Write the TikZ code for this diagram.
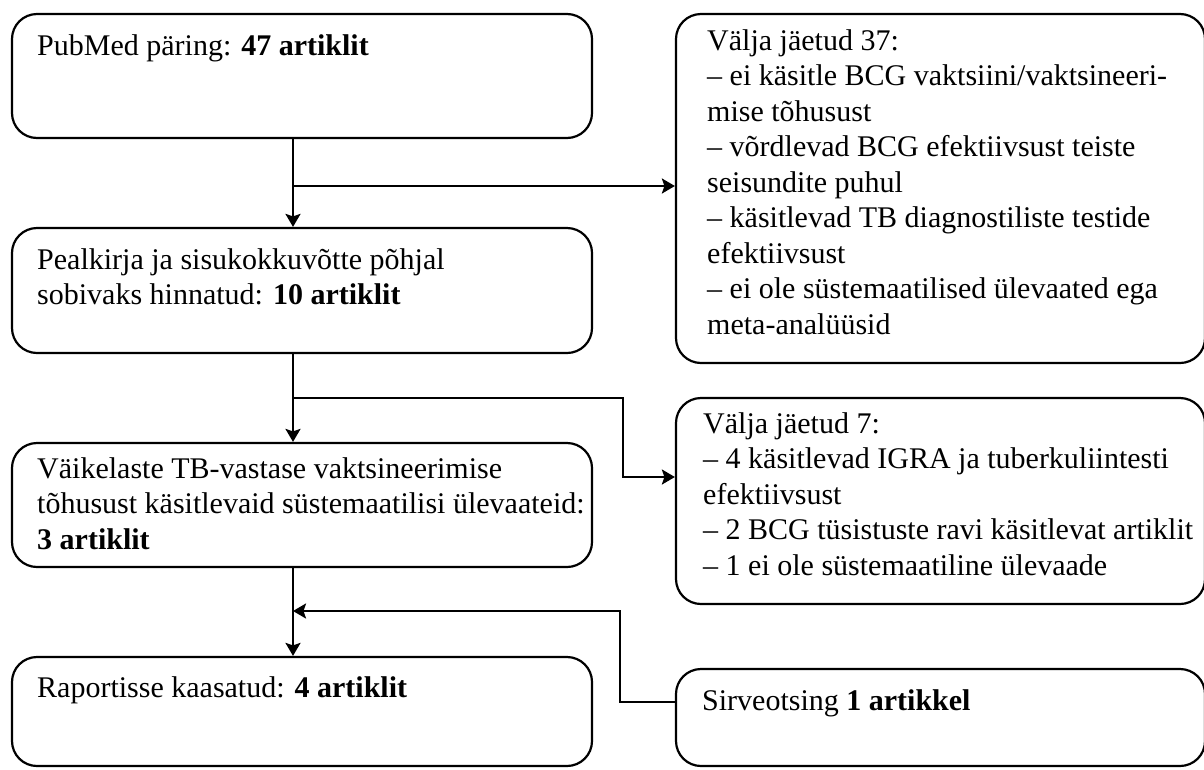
\documentclass[tikz,border=0pt]{standalone}
\usepackage{fontspec}
\setmainfont{Liberation Serif}
\usetikzlibrary{arrows.meta}
\begin{document}
\begin{tikzpicture}[x=1pt,y=-1pt,
  box/.style={draw, line width=2.2pt, rounded corners=25pt, inner sep=0pt, rectangle},
  txt/.style={inner sep=0pt, anchor=base west, font=\fontsize{30}{35.5}\selectfont},
  arr/.style={line width=2.2pt, -{Stealth[length=13pt,width=15pt,inset=2.5pt]}}]
\useasboundingbox (0,0) rectangle (1204,769);
% left boxes
\node[box, minimum width=580pt, minimum height=124pt] (b1) at (302,76) {};
\node[box, minimum width=580pt, minimum height=125pt] (b2) at (302,290.5) {};
\node[box, minimum width=580pt, minimum height=124pt] (b3) at (302,505) {};
\node[box, minimum width=580pt, minimum height=109pt] (b4) at (302,711.5) {};
% right boxes
\node[box, minimum width=529pt, minimum height=349pt] (bA) at (940.5,188.5) {};
\node[box, minimum width=529pt, minimum height=206pt] (bB) at (940.5,501) {};
\node[box, minimum width=529pt, minimum height=97pt] (bC) at (940.5,717.5) {};
% texts
\node[txt] (t1) at (37,55) {\begin{tabular}[t]{@{}l@{}}PubMed päring: \textbf{47 artiklit}\end{tabular}};
\node[txt] (t2) at (37,269) {\begin{tabular}[t]{@{}l@{}}Pealkirja ja sisukokkuvõtte põhjal\\ sobivaks hinnatud: \textbf{10 artiklit}\end{tabular}};
\node[txt] (t3) at (37,478) {\begin{tabular}[t]{@{}l@{}}Väikelaste TB-vastase vaktsineerimise\\ tõhusust käsitlevaid süstemaatilisi ülevaateid:\\ \textbf{3 artiklit}\end{tabular}};
\node[txt] (t4) at (37,697) {\begin{tabular}[t]{@{}l@{}}Raportisse kaasatud: \textbf{4 artiklit}\end{tabular}};
\node[txt] (tA) at (707,50) {\begin{tabular}[t]{@{}l@{}}Välja jäetud 37:\\ – ei käsitle BCG vaktsiini/vaktsineeri-\\ mise tõhusust\\ – võrdlevad BCG efektiivsust teiste\\ seisundite puhul\\ – käsitlevad TB diagnostiliste testide\\ efektiivsust\\ – ei ole süstemaatilised ülevaated ega\\ meta-analüüsid\end{tabular}};
\node[txt] (tB) at (703,433) {\begin{tabular}[t]{@{}l@{}}Välja jäetud 7:\\ – 4 käsitlevad IGRA ja tuberkuliintesti\\ efektiivsust\\ – 2 BCG tüsistuste ravi käsitlevat artiklit\\ – 1 ei ole süstemaatiline ülevaade\end{tabular}};
\node[txt] (tC) at (702,710) {\begin{tabular}[t]{@{}l@{}}Sirveotsing \textbf{1 artikkel}\end{tabular}};
% junctions
\coordinate (j1) at (293,186);
\coordinate (j2) at (293,398);
\coordinate (j3) at (293,611);
\coordinate (k2) at (623,477);
\coordinate (k3) at (620,702);
% connectors
\draw[arr] (b1.south -| j1) -- (b2.north -| j1);
\draw[arr] (j1) -- (bA.west |- j1);
\draw[arr] (b2.south -| j2) -- (b3.north -| j2);
\draw[arr] (j2) -| (k2) -- (bB.west |- k2);
\draw[arr] (b3.south -| j3) -- (b4.north -| j3);
\draw[arr] (bC.west |- k3) -- (k3) |- (j3);
\end{tikzpicture}
\end{document}
